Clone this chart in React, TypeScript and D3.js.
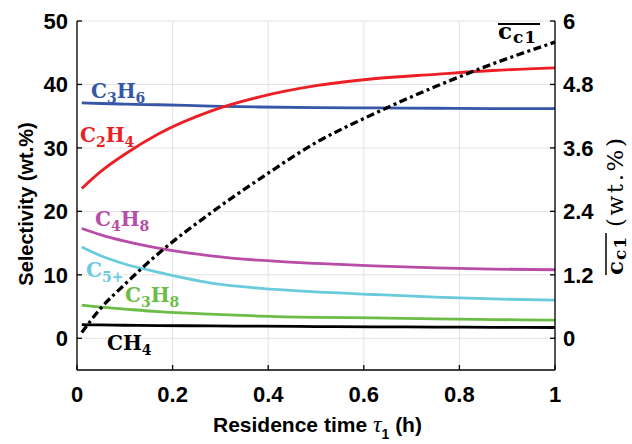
import React from "react";
import * as d3 from "d3";

const tau = [0.01, 0.05, 0.1, 0.17, 0.28, 0.38, 0.5, 0.62, 0.75, 0.87, 1.0];
const C2H4 = [23.6, 26.3, 29.0, 32.2, 35.8, 38.0, 39.8, 40.9, 41.6, 42.2, 42.6];
const C3H6 = [37.1, 37.0, 36.9, 36.8, 36.6, 36.45, 36.35, 36.3, 36.25, 36.2, 36.2];
const C4H8 = [17.3, 16.3, 15.3, 14.2, 13.0, 12.3, 11.8, 11.4, 11.1, 10.9, 10.8];
const C5p = [14.4, 13.0, 11.7, 10.4, 8.7, 7.9, 7.3, 6.9, 6.5, 6.2, 6.0];
const C3H8 = [5.2, 4.9, 4.6, 4.2, 3.8, 3.5, 3.3, 3.2, 3.05, 2.95, 2.85];
const CH4 = [2.15, 2.1, 2.05, 2.0, 1.95, 1.9, 1.85, 1.8, 1.77, 1.73, 1.7];
const cc1 = [0.11, 0.57, 1.02, 1.6, 2.37, 3.0, 3.7, 4.24, 4.76, 5.19, 5.6];

const xTicks = [0, 0.2, 0.4, 0.6, 0.8, 1];
const xTickLabels = ["0", "0.2", "0.4", "0.6", "0.8", "1"];
const yTicks = [0, 10, 20, 30, 40, 50];
const y2Ticks = [0, 1.2, 2.4, 3.6, 4.8, 6];
const y2TickLabels = ["0", "1.2", "2.4", "3.6", "4.8", "6"];

const series = [
  { name: "C3H6", values: C3H6, color: "#3656a8" },
  { name: "C2H4", values: C2H4, color: "#ec1f26" },
  { name: "C4H8", values: C4H8, color: "#b84ca6" },
  { name: "C5+", values: C5p, color: "#6acbdd" },
  { name: "C3H8", values: C3H8, color: "#6bbd47" },
  { name: "CH4", values: CH4, color: "#000000" },
];

const W = 632, H = 444;
const L = 77, R = 555, T = 21, B = 370;

const labelFont = "'DejaVu Serif', serif";
const sans = "'Liberation Sans', Arial, sans-serif";

function Chem({ x, y, parts, color, size = 20 }: { x: number; y: number; parts: [string, string][]; color: string; size?: number }) {
  return (
    <text x={x} y={y} fill={color} fontFamily={labelFont} fontWeight="bold" fontSize={size}>
      {parts.map(([main, sub], i) => (
        <React.Fragment key={i}>
          <tspan dy={i === 0 ? 0 : -5}>{main}</tspan>
          {sub ? <tspan dy={5} fontSize={size * 0.7}>{sub}</tspan> : null}
        </React.Fragment>
      ))}
    </text>
  );
}

export default function App() {
  const x = d3.scaleLinear().domain([0, 1]).range([L, R]);
  const y = d3.scaleLinear().domain([-5, 50]).range([B, T]);
  const y2 = d3.scaleLinear().domain([-0.6, 6]).range([B, T]);
  const line = (vals: number[], sc: d3.ScaleLinear<number, number>) =>
    d3.line<number>().x((_, i) => x(tau[i])).y((d) => sc(d)).curve(d3.curveMonotoneX)(vals) || "";

  return (
    <svg width={W} height={H} style={{ position: "absolute", left: 0, top: 0, background: "#fff" }}>
      {/* grid */}
      {xTicks.map((t) => (
        <line key={"gx" + t} x1={x(t)} x2={x(t)} y1={T} y2={B} stroke="#e3e3e3" strokeWidth={1} />
      ))}
      {yTicks.map((t) => (
        <line key={"gy" + t} x1={L} x2={R} y1={y(t)} y2={y(t)} stroke="#e3e3e3" strokeWidth={1} />
      ))}
      {/* series */}
      {series.map((s) => (
        <path key={s.name} d={line(s.values, y)} fill="none" stroke={s.color} strokeWidth={2.8} />
      ))}
      <path d={line(cc1, y2)} fill="none" stroke="#000" strokeWidth={3.3} strokeDasharray="8,3.5,3,3.5" />
      {/* axes */}
      <line x1={L} x2={L} y1={T} y2={B} stroke="#000" strokeWidth={1.3} />
      <line x1={R} x2={R} y1={T} y2={B} stroke="#000" strokeWidth={1.3} />
      <line x1={L} x2={R} y1={B} y2={B} stroke="#000" strokeWidth={1.3} />
      {xTicks.map((t, i) => (
        <g key={"xt" + t}>
          <line x1={x(t)} x2={x(t)} y1={B} y2={B - 5} stroke="#000" strokeWidth={1.3} />
          <text x={x(t)} y={402} textAnchor="middle" fontFamily={sans} fontWeight="bold" fontSize={22}>{xTickLabels[i]}</text>
        </g>
      ))}
      {yTicks.map((t) => (
        <g key={"yt" + t}>
          <line x1={L} x2={L + 5} y1={y(t)} y2={y(t)} stroke="#000" strokeWidth={1.3} />
          <text x={68} y={y(t) + 8} textAnchor="end" fontFamily={sans} fontWeight="bold" fontSize={22}>{t}</text>
        </g>
      ))}
      {y2Ticks.map((t, i) => (
        <g key={"y2t" + t}>
          <line x1={R} x2={R - 5} y1={y2(t)} y2={y2(t)} stroke="#000" strokeWidth={1.3} />
          <text x={563} y={y2(t) + 8} textAnchor="start" fontFamily={sans} fontWeight="bold" fontSize={22}>{y2TickLabels[i]}</text>
        </g>
      ))}
      {/* axis titles */}
      <text x={213} y={432} fontFamily={sans} fontWeight="bold" fontSize={21}>
        Residence time <tspan fontFamily="'Liberation Serif', serif" fontStyle="italic" fontWeight="normal" fontSize={24}>τ</tspan>
        <tspan dy={7} fontSize={14}>1</tspan>
        <tspan dy={-7}> (h)</tspan>
      </text>
      <text transform="translate(33,204) rotate(-90)" textAnchor="middle" fontFamily={sans} fontWeight="bold" fontSize={20}>
        Selectivity (wt.%)
      </text>
      {/* right axis title */}
      <g transform="translate(623,277) rotate(-90)">
        <line x1={2} x2={44} y1={-17} y2={-17} stroke="#000" strokeWidth={1.5} />
        <text x={2} y={0} fontFamily={labelFont} fontWeight="bold" fontSize={23} letterSpacing={1}>
          c<tspan dy={3} fontSize={17}>c1</tspan>
        </text>
        <text x={50} y={0} fontFamily={labelFont} fontSize={23} textLength={89} lengthAdjust="spacing">(wt.%)</text>
      </g>
      {/* top label */}
      <line x1={498} x2={540} y1={24} y2={24} stroke="#000" strokeWidth={1.8} />
      <text x={498} y={39} fontFamily={labelFont} fontWeight="bold" fontSize={23} letterSpacing={1}>
        c<tspan dy={4} fontSize={17}>c1</tspan>
      </text>
      {/* series labels */}
      <Chem x={91} y={98} parts={[["C", "3"], ["H", "6"]]} color="#3656a8" />
      <Chem x={80} y={142} parts={[["C", "2"], ["H", "4"]]} color="#ec1f26" />
      <Chem x={95} y={226} parts={[["C", "4"], ["H", "8"]]} color="#b84ca6" />
      <Chem x={86} y={277} parts={[["C", "5+"]]} color="#6acbdd" />
      <Chem x={125} y={302} parts={[["C", "3"], ["H", "8"]]} color="#6bbd47" />
      <Chem x={107} y={350} parts={[["CH", "4"]]} color="#000000" />
    </svg>
  );
}
